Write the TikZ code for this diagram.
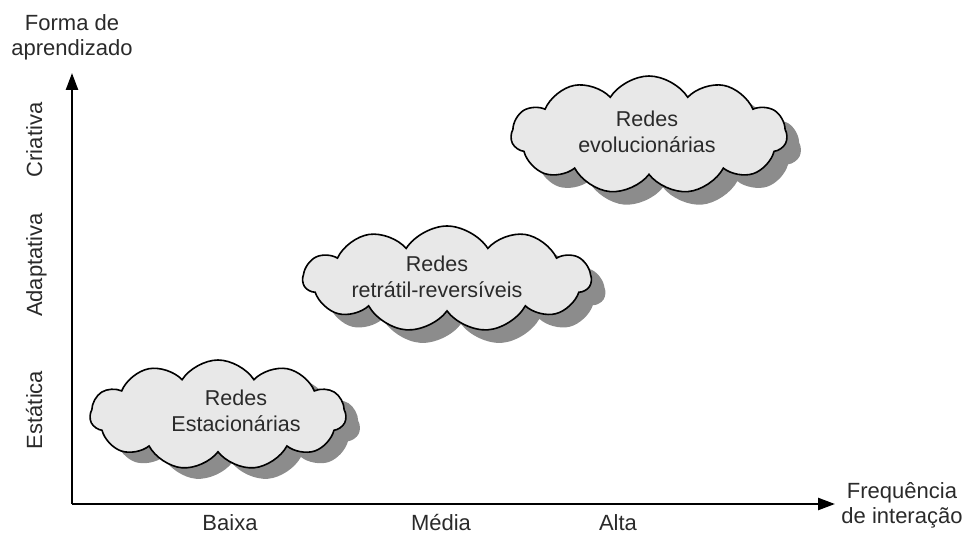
\documentclass[tikz,border=0pt]{standalone}
\usepackage{fontspec}
\setmainfont{Liberation Sans}
\usetikzlibrary{shapes.symbols,arrows.meta}
\definecolor{cloudfill}{HTML}{E8E8E8}
\definecolor{shadowgray}{HTML}{8C8C8C}
\definecolor{inkc}{HTML}{2A2A2A}
\tikzset{
  cloudbox/.style={cloud, cloud puffs=11, cloud puff arc=115, cloud ignores aspect,
    draw=black, line width=1.6pt, fill=cloudfill, inner sep=0pt},
  cloudshadow/.style={cloud, cloud puffs=11, cloud puff arc=115, cloud ignores aspect,
    fill=shadowgray, draw=none, inner sep=0pt},
  cloudtext/.style={align=center, inner sep=0pt, text=inkc,
    font=\fontsize{21.5}{26}\selectfont},
  axis/.style={line width=2.4pt, -{Triangle[length=17pt,width=12pt]}},
  lab/.style={font=\fontsize{22}{25}\selectfont, text=inkc, align=center, inner sep=0pt},
}
\begin{document}
\begin{tikzpicture}[x=1pt,y=-1pt]
\useasboundingbox (0,0) rectangle (967,535);
% axes
\coordinate (o) at (72,504);
\coordinate (ytip) at (72,73);
\coordinate (xtip) at (835,504);
\draw[axis] (o) -- (ytip);
\draw[axis] (o) -- (xtip);
% axis titles
\node[lab] (ytitle) at (72,37) {Forma de\\aprendizado};
\node[lab] (xtitle) at (902,505) {Frequência\\de interação};
% y tick labels
\node[lab, rotate=90, anchor=base] (est) at (42,410) {Estática};
\node[lab, rotate=90, anchor=base] (ada) at (42,265) {Adaptativa};
\node[lab, rotate=90, anchor=base] (cri) at (42,140) {Criativa};
% x tick labels
\node[lab, anchor=base] (bai) at (230,530) {Baixa};
\node[lab, anchor=base] (med) at (441,530) {Média};
\node[lab, anchor=base] (alt) at (618,530) {Alta};
% clouds with shadows
\node[cloudshadow, minimum width=256pt, minimum height=110pt] (s1) at (232,426) {};
\node[cloudbox, minimum width=256pt, minimum height=110pt] (c1) at (218,415) {};
\node[cloudtext] (t1) at (236,411) {Redes\\Estacionárias};
\node[cloudshadow, minimum width=288pt, minimum height=106pt] (s2) at (461,292) {};
\node[cloudbox, minimum width=288pt, minimum height=106pt] (c2) at (447,279) {};
\node[cloudtext] (t2) at (437,277) {Redes\\retrátil-reversíveis};
\node[cloudshadow, minimum width=276pt, minimum height=118pt] (s3) at (663,148) {};
\node[cloudbox, minimum width=276pt, minimum height=118pt] (c3) at (649,135) {};
\node[cloudtext] (t3) at (647,132) {Redes\\evolucionárias};
\end{tikzpicture}
\end{document}
